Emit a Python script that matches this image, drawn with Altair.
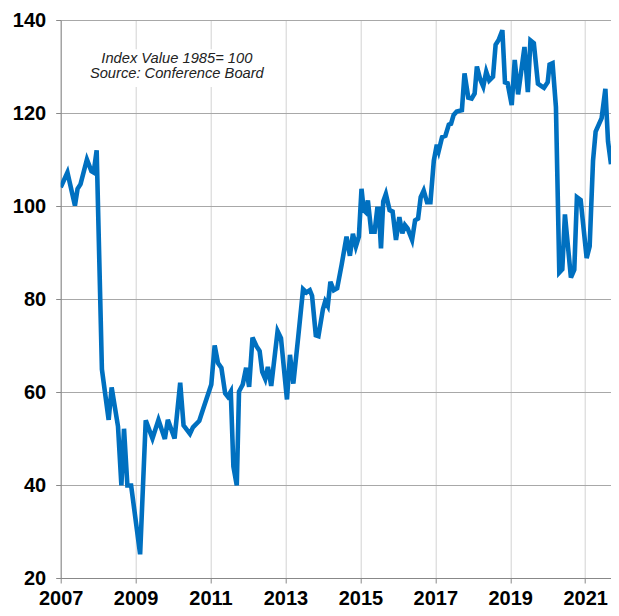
import altair as alt
import pandas as pd

# Decimal-year positions of the plotted vertices and the index values
years = [2007.0, 2007.18, 2007.38, 2007.45, 2007.53, 2007.70, 2007.82, 2007.88, 2007.96,
         2008.10, 2008.28, 2008.36, 2008.53, 2008.62, 2008.69, 2008.78, 2008.88,
         2009.12, 2009.27, 2009.45, 2009.61, 2009.78, 2009.86,
         2010.04, 2010.19, 2010.28, 2010.45, 2010.53, 2010.70, 2010.80,
         2011.02, 2011.11, 2011.20, 2011.29, 2011.39, 2011.46, 2011.54, 2011.61, 2011.70, 2011.76, 2011.86, 2011.95,
         2012.03, 2012.12, 2012.23, 2012.31, 2012.38, 2012.46, 2012.53, 2012.62, 2012.79, 2012.88,
         2013.04, 2013.12, 2013.21, 2013.34, 2013.47, 2013.56, 2013.65, 2013.71, 2013.81, 2013.88,
         2014.00, 2014.06, 2014.13, 2014.20, 2014.29, 2014.38, 2014.50, 2014.63, 2014.72, 2014.80, 2014.88, 2014.96,
         2015.03, 2015.09, 2015.14, 2015.20, 2015.29, 2015.38, 2015.45, 2015.49, 2015.55, 2015.61, 2015.68, 2015.78, 2015.86, 2015.95,
         2016.04, 2016.12, 2016.19, 2016.26, 2016.38, 2016.46, 2016.54, 2016.61, 2016.69, 2016.78, 2016.87, 2016.96,
         2017.04, 2017.09, 2017.18, 2017.27, 2017.36, 2017.42, 2017.49, 2017.57, 2017.71, 2017.78, 2017.88, 2017.97,
         2018.05, 2018.11, 2018.20, 2018.28, 2018.36, 2018.44, 2018.54, 2018.61, 2018.69, 2018.79, 2018.86, 2018.93,
         2019.04, 2019.12, 2019.21, 2019.38, 2019.47, 2019.54, 2019.63, 2019.74, 2019.86, 2019.90,
         2020.00, 2020.05, 2020.13, 2020.22, 2020.31, 2020.39, 2020.46, 2020.62, 2020.71, 2020.78, 2020.88,
         2021.04, 2021.12, 2021.21, 2021.28, 2021.44, 2021.54, 2021.61, 2021.69]

values = [104.0, 107.2, 100.1, 103.7, 104.7, 110.0, 107.5, 107.2, 112.0,
          64.9, 54.0, 61.0, 52.6, 39.9, 52.1, 39.9, 39.9,
          25.1, 53.9, 50.0, 54.0, 49.9, 54.0,
          50.0, 62.0, 52.8, 51.0, 52.4, 53.8, 56.3,
          61.6, 70.0, 66.2, 65.2, 59.7, 59.0, 60.1, 44.0, 39.9, 60.1, 61.6, 65.2,
          61.1, 71.7, 69.8, 68.8, 64.3, 62.8, 65.4, 61.3, 73.1, 71.6,
          58.4, 68.0, 61.8, 71.8, 82.1, 81.4, 81.9, 80.7, 72.2, 72.0,
          77.8, 79.5, 78.5, 83.7, 81.9, 82.3, 87.4, 93.4, 89.3, 94.0, 91.3, 93.4,
          103.7, 99.1, 98.7, 101.2, 94.5, 94.5, 99.4, 99.4, 90.9, 101.0, 102.6, 99.1, 98.8, 92.7,
          97.6, 94.1, 95.9, 95.2, 92.7, 96.9, 97.3, 101.9, 103.3, 100.8, 100.8, 109.7,
          113.2, 111.8, 114.8, 115.1, 117.5, 117.7, 119.6, 120.3, 120.6, 128.5, 123.3, 123.1,
          124.2, 130.0, 127.2, 125.7, 128.9, 127.0, 127.8, 134.7, 135.7, 137.8, 126.6, 126.4,
          121.7, 131.4, 124.0, 134.2, 124.5, 135.6, 135.0, 126.3, 125.6, 125.4,
          126.6, 130.4, 130.7, 121.3, 85.7, 86.4, 98.2, 84.6, 86.3, 101.9, 101.3,
          88.8, 91.3, 109.7, 116.0, 118.9, 125.2, 113.9, 109.0]

assert len(years) == len(values)

x_ticks = list(range(2007, 2022))
y_ticks = [20, 40, 60, 80, 100, 120, 140]
x_domain = [2007.0, 2021.69]
y_domain = [20, 140]

note_lines = ["Index Value 1985= 100", "Source: Conference Board"]
note_x = 2010.1
note_y = [131.6, 128.3]
note_box = {"x": 2007.64, "x2": 2012.5, "y": 133.7, "y2": 125.6}

df = pd.DataFrame({"year": years, "value": values})
notes = pd.DataFrame({"text": note_lines, "x": [note_x, note_x], "y": note_y})
box = pd.DataFrame([note_box])

FONT = "Liberation Sans"

x_scale = alt.Scale(domain=x_domain, nice=False, zero=False)
y_scale = alt.Scale(domain=y_domain, nice=False, zero=False)

x_axis = alt.Axis(
    values=x_ticks, format="d", title=None,
    labelExpr="datum.value % 2 == 1 ? datum.label : ''",
    labelFont=FONT, labelFontSize=20, labelFontWeight="bold", labelColor="#000",
    labelPadding=5, labelFlush=False, labelOverlap=False, labelBound=False,
    tickSize=5, tickColor="#888", domainColor="#888", domainWidth=1,
    grid=True, gridColor="#d2d2d2", gridWidth=1,
)
y_axis = alt.Axis(
    values=y_ticks, title=None,
    labelFont=FONT, labelFontSize=20, labelFontWeight="bold", labelColor="#000",
    labelPadding=10, labelFlush=False, labelOverlap=False, labelBound=False,
    tickSize=5, tickColor="#888", domainColor="#888", domainWidth=1,
    grid=True, gridColor="#a8a8a8", gridWidth=1,
)

rect = alt.Chart(box).mark_rect(fill="white", stroke=None).encode(
    x=alt.X("x:Q", scale=x_scale, axis=x_axis),
    x2="x2:Q",
    y=alt.Y("y:Q", scale=y_scale, axis=y_axis),
    y2="y2:Q",
)

line = alt.Chart(df).mark_line(color="#0070C0", strokeWidth=4.6, clip=True).encode(
    x=alt.X("year:Q", scale=x_scale, axis=x_axis),
    y=alt.Y("value:Q", scale=y_scale, axis=y_axis),
)

text = alt.Chart(notes).mark_text(
    font=FONT, fontSize=14.7, fontStyle="italic", color="#222", align="center", baseline="middle"
).encode(
    x=alt.X("x:Q", scale=x_scale),
    y=alt.Y("y:Q", scale=y_scale),
    text="text:N",
)

chart = alt.layer(rect, line, text).properties(
    width=550.3,
    height=558,
    autosize=alt.AutoSizeParams(type="none"),
    padding={"left": 52.7, "top": 12, "right": 0, "bottom": 30},
    background="white",
).configure_view(strokeWidth=0)

chart.save("out.html", embed_options={"renderer": "svg", "actions": False})
